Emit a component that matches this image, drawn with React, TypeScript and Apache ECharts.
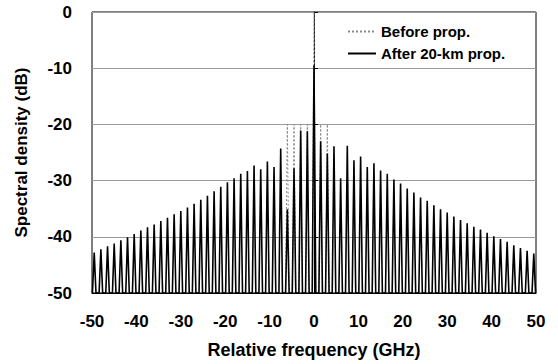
import React, { useEffect, useRef } from "react";
import * as echarts from "echarts";

const afterFreqs = [
  -49.5, -48, -46.5, -45, -43.5, -42, -40.5, -39, -37.5, -36, -34.5, -33,
  -31.5, -30, -28.5, -27, -25.5, -24, -22.5, -21, -19.5, -18, -16.5, -15,
  -13.5, -12, -10.5, -9, -7.5, -6, -4.5, -3, -1.5, 0, 1.5, 3, 4.5, 6, 7.5, 9,
  10.5, 12, 13.5, 15, 16.5, 18, 19.5, 21, 22.5, 24, 25.5, 27, 28.5, 30, 31.5,
  33, 34.5, 36, 37.5, 39, 40.5, 42, 43.5, 45, 46.5, 48, 49.5,
];
const afterPeaks = [
  -42.8, -42.2, -41.7, -41.2, -40.6, -40.1, -39.5, -38.9, -38.3, -37.8, -37.2,
  -36.6, -36.0, -35.4, -34.8, -34.1, -33.4, -32.7, -31.9, -31.1, -30.3, -29.6,
  -28.8, -28.3, -27.3, -28.0, -26.6, -27.6, -24.3, -35.1, -27.8, -21.1, -21.2,
  -9.5, -23.0, -25.2, -23.9, -29.6, -23.8, -26.4, -25.7, -27.6, -26.9, -28.2,
  -28.8, -29.8, -30.5, -31.4, -32.1, -33.0, -33.6, -34.4, -35.1, -35.7, -36.4,
  -37.0, -37.6, -38.2, -38.7, -39.3, -39.9, -40.4, -40.9, -41.5, -42.0, -42.5,
  -43.0,
];
const beforeFreqs = [-6, -4.5, -3, -1.5, 0, 1.5, 3];
const beforePeaks = [-20, -20, -20, -20, 0, -20, -20];

const xTicks = { min: -50, max: 50, interval: 10 };
const yTicks = { min: -50, max: 0, interval: 10 };

const HALF_WIDTH = 0.4;

function spikes(freqs: number[], peaks: number[], floor: number) {
  const pts: number[][] = [];
  freqs.forEach((f, i) => {
    pts.push([f - HALF_WIDTH, floor]);
    pts.push([f, peaks[i]]);
    pts.push([f + HALF_WIDTH, floor]);
  });
  return pts;
}

const FONT = "'Liberation Sans', Arial, sans-serif";

export default function App() {
  const ref = useRef<HTMLDivElement>(null);
  useEffect(() => {
    if (!ref.current) return;
    const chart = echarts.init(ref.current, undefined, { renderer: "svg" });
    chart.setOption({
      animation: false,
      backgroundColor: "#fff",
      textStyle: { fontFamily: FONT },
      grid: {
        left: 92,
        right: 22,
        top: 12,
        bottom: 71,
        show: true,
        borderColor: "#000",
        borderWidth: 1,
      },
      legend: {
        orient: "vertical",
        left: 342,
        top: 19,
        itemWidth: 28,
        itemHeight: 12,
        itemGap: 7,
        itemStyle: { opacity: 0 },
        textStyle: {
          fontFamily: FONT,
          fontWeight: "bold",
          fontSize: 15,
          color: "#000",
        },
        data: ["Before prop.", "After 20-km prop."],
      },
      xAxis: {
        type: "value",
        min: xTicks.min,
        max: xTicks.max,
        interval: xTicks.interval,
        name: "Relative frequency (GHz)",
        nameLocation: "middle",
        nameGap: 48,
        nameTextStyle: {
          fontFamily: FONT,
          fontWeight: "bold",
          fontSize: 18,
          color: "#000",
        },
        axisLine: { show: true, onZero: false, lineStyle: { color: "#000", width: 1 } },
        axisTick: { show: false },
        splitLine: { show: false },
        axisLabel: {
          fontFamily: FONT,
          fontWeight: "bold",
          fontSize: 17,
          color: "#000",
          margin: 20,
        },
      },
      yAxis: {
        type: "value",
        min: yTicks.min,
        max: yTicks.max,
        interval: yTicks.interval,
        name: "Spectral density (dB)",
        nameLocation: "middle",
        nameGap: 62,
        nameTextStyle: {
          fontFamily: FONT,
          fontWeight: "bold",
          fontSize: 17,
          color: "#000",
        },
        axisLine: { show: true, lineStyle: { color: "#000", width: 1 } },
        axisTick: { show: true, inside: true, length: 4, lineStyle: { color: "#000" } },
        splitLine: { show: true, lineStyle: { color: "#9a9a9a", width: 1 } },
        axisLabel: {
          fontFamily: FONT,
          fontWeight: "bold",
          fontSize: 17,
          color: "#000",
          margin: 20,
        },
      },
      series: [
        {
          name: "Before prop.",
          type: "line",
          data: spikes(beforeFreqs, beforePeaks, -50),
          symbol: "none",
          clip: true,
          lineStyle: { color: "#8a8a8a", width: 1, type: [2, 2] },
          itemStyle: { color: "#8a8a8a" },
          z: 2,
        },
        {
          name: "After 20-km prop.",
          type: "line",
          data: spikes(afterFreqs, afterPeaks, -50),
          symbol: "none",
          clip: true,
          lineStyle: { color: "#000", width: 1.6 },
          itemStyle: { color: "#000" },
          z: 3,
        },
      ],
    });
    return () => chart.dispose();
  }, []);
  return (
    <div
      ref={ref}
      style={{ position: "absolute", left: 0, top: 0, width: 558, height: 364 }}
    />
  );
}
